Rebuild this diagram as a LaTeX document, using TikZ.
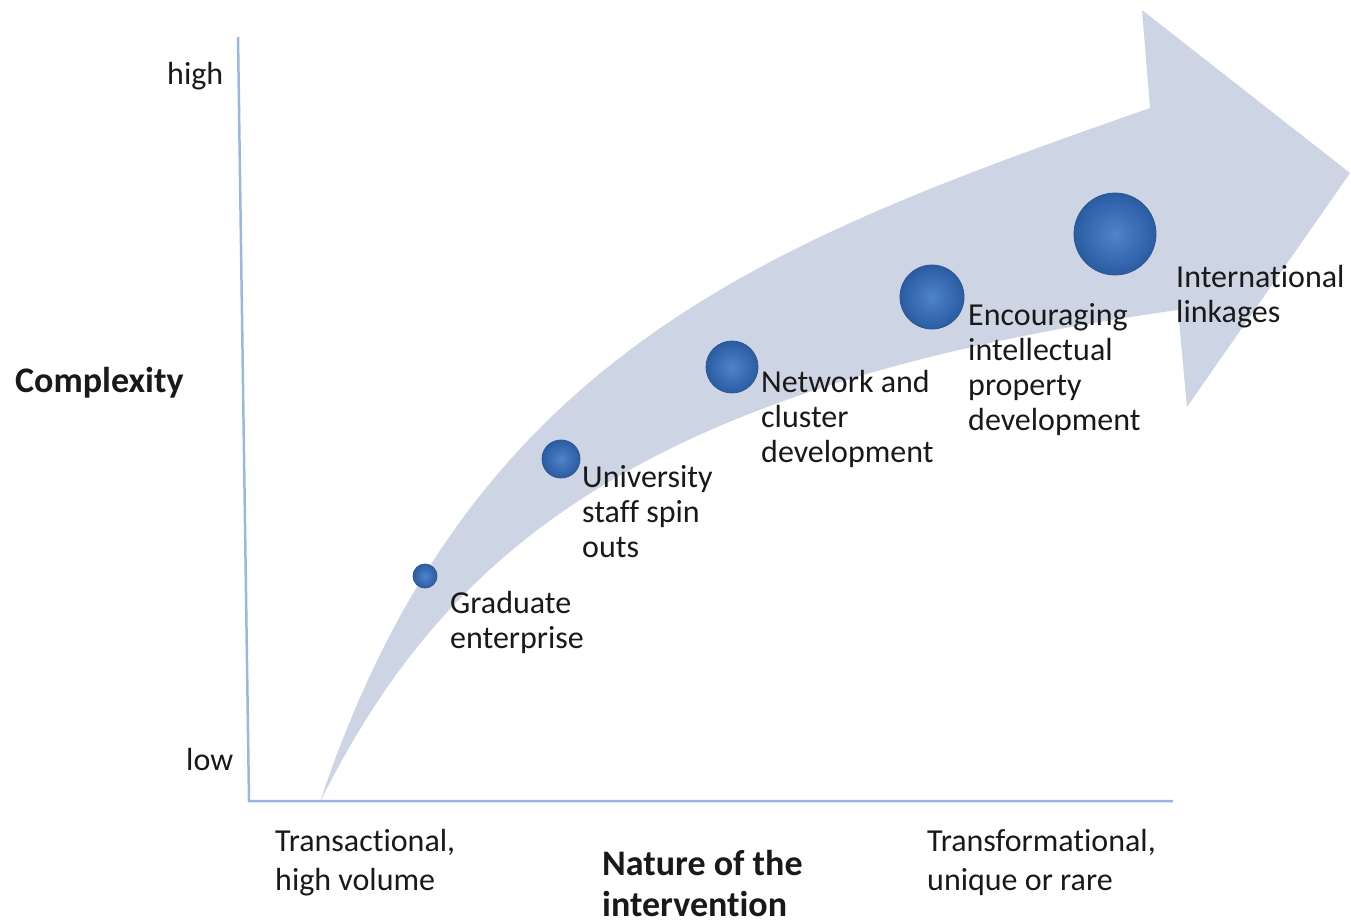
\documentclass[tikz,border=0pt]{standalone}
\usepackage{fontspec}
\setmainfont{Carlito}[Ligatures={NoCommon}]
\definecolor{arrowc}{RGB}{205,213,229}
\definecolor{axisc}{RGB}{155,183,222}
\definecolor{txt}{RGB}{25,25,25}
\definecolor{bin}{RGB}{78,132,202}
\definecolor{bout}{RGB}{42,92,162}
\definecolor{bedge}{RGB}{45,85,145}
\tikzset{
  lbl/.style={anchor=base west, inner sep=0pt, align=left, text=txt, font=\fontsize{32}{35}\selectfont},
  axlbl/.style={anchor=base west, inner sep=0pt, align=left, text=txt, font=\fontsize{32}{39}\selectfont},
  boldlbl/.style={anchor=base west, inner sep=0pt, align=left, text=txt, font=\fontsize{36}{41}\selectfont\bfseries},
  bubble/.style={circle, inner sep=0pt, draw=bedge, line width=0.8pt, inner color=bin, outer color=bout},
  axisline/.style={draw=axisc, line width=2.5pt}
}
\begin{document}
\begin{tikzpicture}[x=1pt, y=-1pt]
\useasboundingbox (0,0) rectangle (1351,923);
% big curved arrow
\coordinate (tail) at (320,802);
\coordinate (nu) at (1150,108);
\coordinate (ht) at (1142,10);
\coordinate (tip) at (1350,173);
\coordinate (hb) at (1187,407);
\coordinate (nl) at (1178,310);
\fill[arrowc] (tail) .. controls (470,352) and (770,241) .. (nu)
  -- (ht) -- (tip) -- (hb) -- (nl)
  .. controls (628,387) and (440,562) .. (tail) -- cycle;
% axes
\coordinate (top) at (238,37);
\coordinate (origin) at (249,801);
\coordinate (xend) at (1173,801);
\draw[axisline] (top) -- (origin) -- (xend);
% bubbles
\node[bubble, minimum size=24pt] (b1) at (425,576) {};
\node[bubble, minimum size=38pt] (b2) at (561,459) {};
\node[bubble, minimum size=52pt] (b3) at (732,367) {};
\node[bubble, minimum size=64pt] (b4) at (932,297) {};
\node[bubble, minimum size=82pt] (b5) at (1115,234) {};
% bubble labels (base = last line)
\node[lbl] (l1) at (450,648) {Graduate\\enterprise};
\node[lbl] (l2) at (582,557) {University\\staff spin\\outs};
\node[lbl] (l3) at (761,462) {Network and\\cluster\\development};
\node[lbl] (l4) at (968,430) {Encouraging\\intellectual\\property\\development};
\node[lbl] (l5) at (1176,322) {International\\linkages};
% axis labels
\node[axlbl] (hi) at (167,85) {high};
\node[axlbl] (lo) at (186,770) {low};
\node[boldlbl] (cx) at (15,392) {Complexity};
\node[axlbl] (tr1) at (275,890) {Transactional,\\high volume};
\node[axlbl] (tr2) at (927,890) {Transformational,\\unique or rare};
\node[boldlbl] (nat) at (602,916) {Nature of the\\intervention};
\end{tikzpicture}
\end{document}
